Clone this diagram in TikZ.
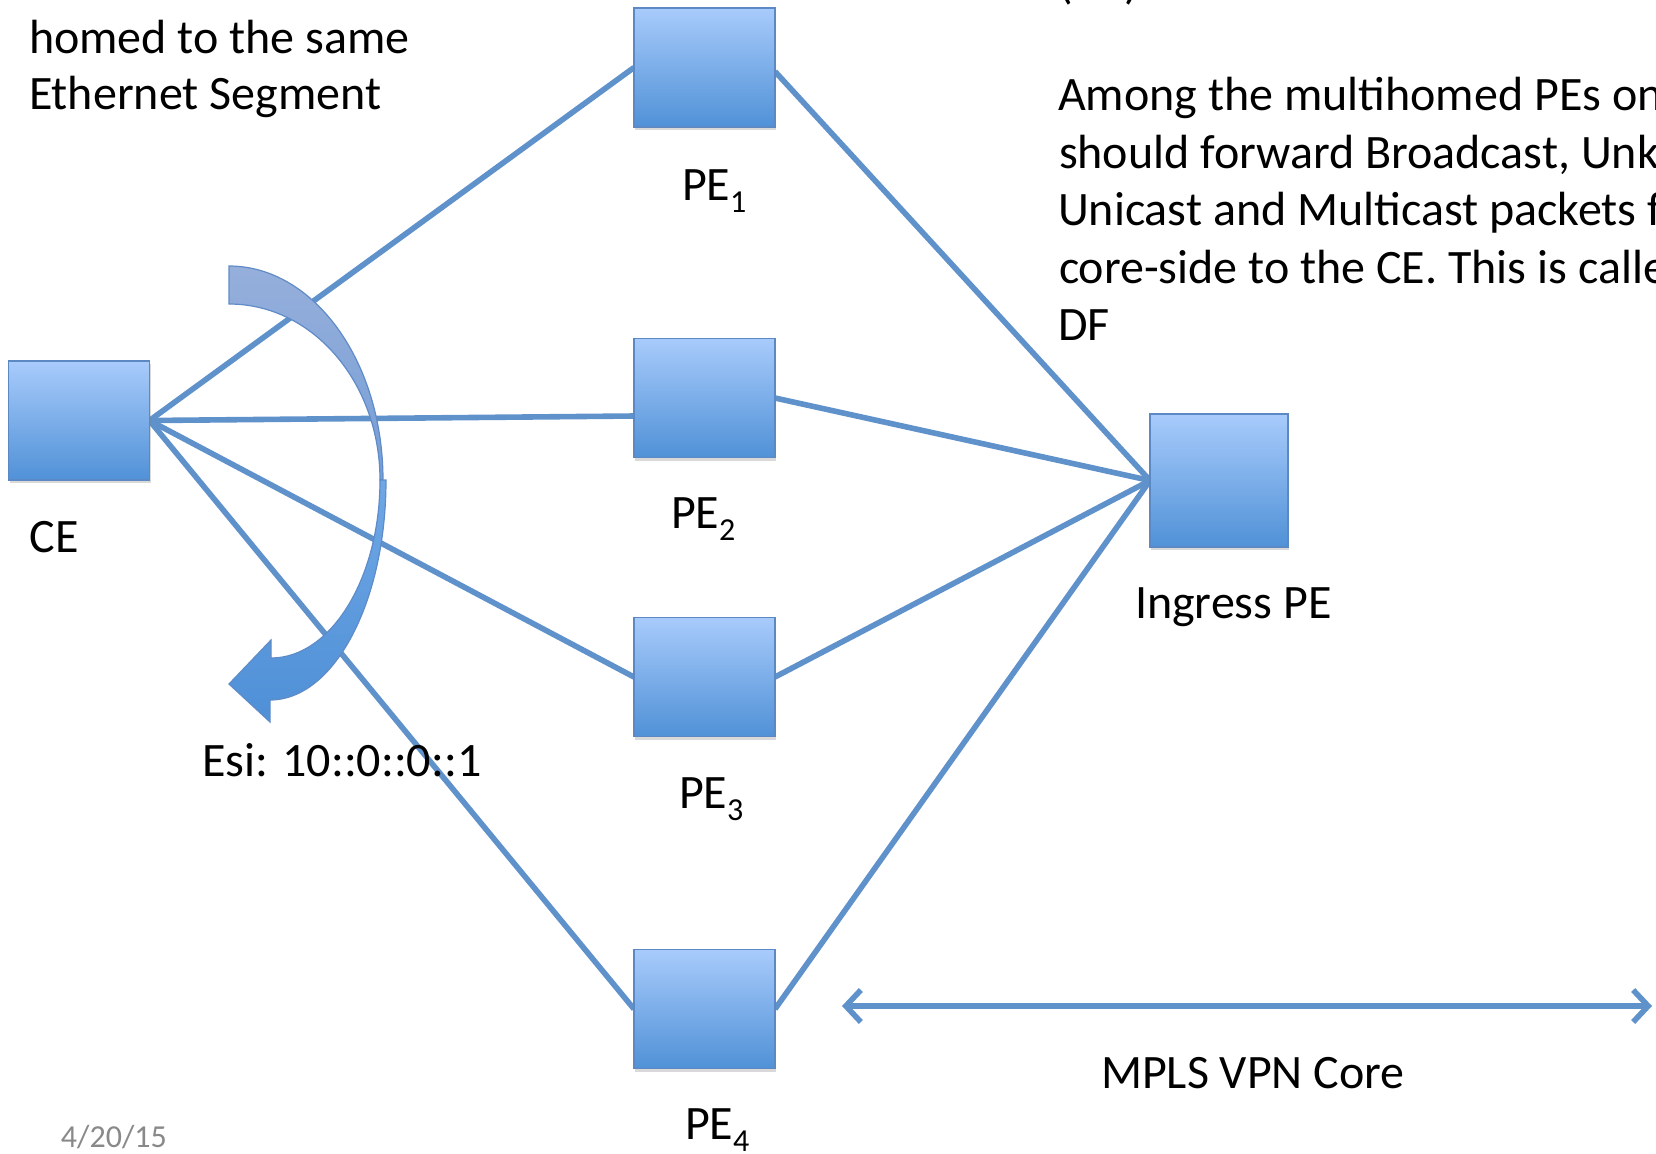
\documentclass[tikz,border=0pt]{standalone}
\usepackage{fontspec}
\setmainfont{Carlito}
\usetikzlibrary{calc,shadows,arrows.meta}
\definecolor{linkblue}{RGB}{95,145,203}
\definecolor{boxtop}{RGB}{168,203,251}
\definecolor{boxbot}{RGB}{80,145,215}
\definecolor{boxline}{RGB}{92,137,196}
\definecolor{arrline}{RGB}{95,140,200}
\definecolor{arrtopA}{RGB}{150,175,219}
\definecolor{arrbotA}{RGB}{118,158,214}
\definecolor{arrtopB}{RGB}{112,168,230}
\definecolor{arrbotB}{RGB}{78,143,214}
\definecolor{dategray}{RGB}{137,137,137}
\pgfdeclarelayer{bg}
\pgfdeclarelayer{mid}
\pgfsetlayers{bg,mid,main}
\begin{document}
\begin{tikzpicture}[x=0.5pt,y=-0.5pt,
  netbox/.style={draw=boxline, line width=0.8pt, top color=boxtop, bottom color=boxbot,
    minimum width=70.5pt, minimum height=59.5pt, inner sep=0pt, outer sep=0pt,
    drop shadow={shadow xshift=0.6pt, shadow yshift=-1.6pt, opacity=0.3}},
  link/.style={draw=linkblue, line width=2.8pt},
  bendarrow/.style={draw=arrline, line width=0.6pt},
  lbl/.style={anchor=base west, inner sep=0pt, outer sep=0pt, font=\fontsize{24pt}{28.75pt}\selectfont},
  datelbl/.style={anchor=base west, inner sep=0pt, outer sep=0pt, text=dategray, font=\fontsize{16pt}{19pt}\selectfont}
]
\useasboundingbox (0,0) rectangle (1656,1153);

% boxes
\node[netbox] (ce) at (79,420.5) {};
\node[netbox] (pe1) at (704.5,67.5) {};
\node[netbox] (pe2) at (704.5,398) {};
\node[netbox] (pe3) at (704.5,677) {};
\node[netbox] (pe4) at (704.5,1009) {};
\node[netbox, minimum width=69pt, minimum height=66.5pt] (ing) at (1219,480.5) {};

% links
\begin{pgfonlayer}{bg}
\draw[link] (ce.east) -- (pe1.west);
\draw[link] (ce.east) -- ($(pe2.west)+(0,18)$);
\draw[link] (ce.east) -- (pe3.west);
\draw[link] (ce.east) -- (pe4.west);
\draw[link] ($(pe1.east)+(0,4)$) -- (ing.west);
\draw[link] (pe2.east) -- (ing.west);
\draw[link] (pe3.east) -- (ing.west);
\draw[link] (pe4.east) -- (ing.west);
\end{pgfonlayer}

% curved block arrow
\begin{pgfonlayer}{mid}
\path[bendarrow, top color=arrtopA, bottom color=arrbotA]
  (229,266) .. controls (314,266) and (383,362) .. (383,480)
  -- (380,480) .. controls (380,383) and (313,304) .. (229,304) -- cycle;
\path[bendarrow, top color=arrtopB, bottom color=arrbotB]
  (380,480) .. controls (380,578) and (331,658) .. (271,658)
  -- (271,640) -- (229,684) -- (270,722) -- (270,700)
  .. controls (334,700) and (386,602) .. (386,480) -- cycle;
\end{pgfonlayer}

% core arrow
\coordinate (coreL) at (842,1006);
\coordinate (coreR) at (1652,1006);
\draw[link, {Straight Barb[length=7.5pt,width=16pt]}-{Straight Barb[length=7.5pt,width=16pt]}] (coreL) -- (coreR);

% texts
\node[lbl] (t1) at (29,53) {homed to the same};
\node[lbl] (t2) at (29,109) {Ethernet Segment};
\node[lbl] (lpe1) at (682,200) {PE\raisebox{-6pt}{\fontsize{16pt}{16pt}\selectfont 1}};
\node[lbl] (lpe2) at (671,528) {PE\raisebox{-6pt}{\fontsize{16pt}{16pt}\selectfont 2}};
\node[lbl] (lpe3) at (679,808) {PE\raisebox{-6pt}{\fontsize{16pt}{16pt}\selectfont 3}};
\node[lbl] (lpe4) at (685,1139) {PE\raisebox{-6pt}{\fontsize{16pt}{16pt}\selectfont 4}};
\node[lbl] (lce) at (30,552) {CE};
\node[lbl] (ling) at (1135,618) {Ingress PE};
\node[lbl] (lesi) at (202,776) {Esi: 10::0::0::1};
\node[lbl] (lcore) at (1101,1088) {MPLS VPN Core};
\node[datelbl] (ldate) at (61,1147) {4/20/15};

\begin{scope}
\clip (0,0) rectangle (1656,1153);
\node[lbl] (r0) at (1058,-2) {(DF)};
\node[lbl] (r1) at (1058,110) {Among the multihomed PEs on};
\node[lbl] (r2) at (1059,168) {should forward Broadcast, Unknown};
\node[lbl] (r3) at (1058,225) {Unicast and Multicast packets from};
\node[lbl] (r4) at (1059,283) {core-side to the CE. This is called};
\node[lbl] (r5) at (1058,340) {DF};
\end{scope}
\end{tikzpicture}
\end{document}
